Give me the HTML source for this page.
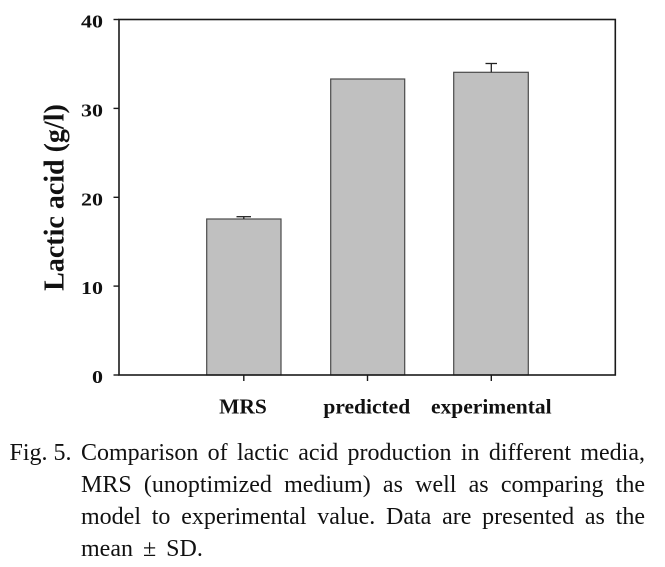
<!DOCTYPE html>
<html>
<head>
<meta charset="utf-8">
<style>
  html,body{margin:0;padding:0;background:#fff;}
  body{width:665px;height:567px;position:relative;overflow:hidden;}
  svg{position:absolute;left:0;top:0;}
  .cap{position:absolute;font-family:"Liberation Serif",serif;font-size:24px;line-height:24px;color:#111;white-space:nowrap;}
  .j{left:81px;width:564px;text-align:justify;text-align-last:justify;}
</style>
</head>
<body>
<svg width="665" height="430" viewBox="0 0 665 430" xmlns="http://www.w3.org/2000/svg">
  <!-- bars -->
  <g fill="#c0c0c0" stroke="#4a4a4a" stroke-width="1.2">
    <rect x="206.7" y="219" width="74.3" height="156"/>
    <rect x="330.7" y="79" width="74" height="296"/>
    <rect x="453.7" y="72.3" width="74.6" height="302.7"/>
  </g>
  <!-- error bars -->
  <g stroke="#222" stroke-width="1.3" fill="none">
    <line x1="243.8" y1="219" x2="243.8" y2="216.7"/>
    <line x1="236.5" y1="216.7" x2="251" y2="216.7"/>
    <line x1="491.3" y1="72.3" x2="491.3" y2="63.5"/>
    <line x1="485.5" y1="63.5" x2="497" y2="63.5"/>
  </g>
  <!-- frame -->
  <rect x="119" y="19.5" width="496.3" height="355.5" fill="none" stroke="#1a1a1a" stroke-width="1.6"/>
  <!-- ticks -->
  <g stroke="#1a1a1a" stroke-width="1.4">
    <line x1="113.5" y1="19.5" x2="119" y2="19.5"/>
    <line x1="113.5" y1="108.4" x2="119" y2="108.4"/>
    <line x1="113.5" y1="197.3" x2="119" y2="197.3"/>
    <line x1="113.5" y1="286.1" x2="119" y2="286.1"/>
    <line x1="113.5" y1="375" x2="119" y2="375"/>
    <line x1="243.8" y1="375" x2="243.8" y2="381"/>
    <line x1="367.5" y1="375" x2="367.5" y2="381"/>
    <line x1="491.3" y1="375" x2="491.3" y2="381"/>
  </g>
  <!-- y tick labels -->
  <g font-family="Liberation Serif, serif" font-weight="bold" font-size="18" fill="#111" text-anchor="end">
    <text transform="translate(103,27.5) scale(1.22,1)">40</text>
    <text transform="translate(103,116.4) scale(1.22,1)">30</text>
    <text transform="translate(103,205.3) scale(1.22,1)">20</text>
    <text transform="translate(103,294.1) scale(1.22,1)">10</text>
    <text transform="translate(103,383) scale(1.22,1)">0</text>
  </g>
  <!-- x labels -->
  <g font-family="Liberation Serif, serif" font-weight="bold" font-size="21.5" fill="#111" text-anchor="middle">
    <text x="243" y="413.3">MRS</text>
    <text x="366.8" y="413.3">predicted</text>
    <text x="491.3" y="413.3">experimental</text>
  </g>
  <!-- y axis title -->
  <text transform="translate(63.5,197.5) rotate(-90)" font-family="Liberation Serif, serif" font-weight="bold" font-size="28" fill="#111" text-anchor="middle">Lactic acid (g/l)</text>
</svg>

<div class="cap" style="left:9.5px;top:440.5px;">Fig. 5.</div>
<div class="cap j" style="top:440.5px;">Comparison of lactic acid production in different media,</div>
<div class="cap j" style="top:472.5px;">MRS (unoptimized medium) as well as comparing the</div>
<div class="cap j" style="top:505px;">model to experimental value. Data are presented as the</div>
<div class="cap" style="left:81px;top:537px;word-spacing:4px;">mean ± SD.</div>
</body>
</html>
